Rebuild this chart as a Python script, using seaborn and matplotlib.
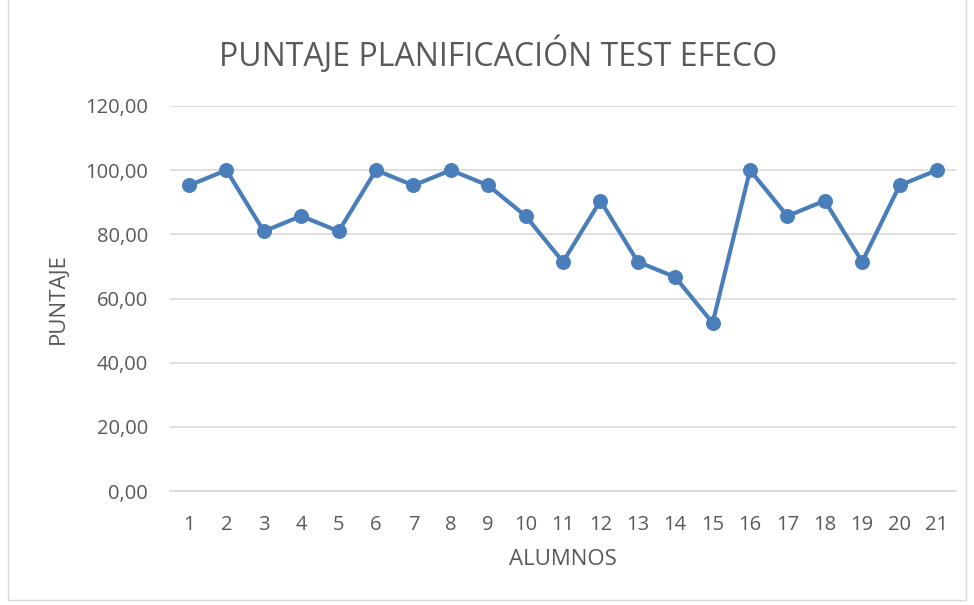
import matplotlib
matplotlib.use("Agg")
import matplotlib.pyplot as plt
import seaborn as sns
import pandas as pd
from matplotlib.patches import Rectangle

alumnos = [str(i) for i in range(1, 22)]
puntaje = [95.24, 100.00, 80.95, 85.71, 80.95, 100.00, 95.24, 100.00, 95.24, 85.71,
           71.43, 90.48, 71.43, 66.67, 52.38, 100.00, 85.71, 90.48, 71.43, 95.24, 100.00]
yticks = [0, 20, 40, 60, 80, 100, 120]
ytick_labels = ["0,00", "20,00", "40,00", "60,00", "80,00", "100,00", "120,00"]

df = pd.DataFrame({"ALUMNOS": alumnos, "PUNTAJE": puntaje})

sns.set_theme(style="white")
plt.rcParams['font.family'] = ['Open Sans', 'DejaVu Sans']

fig = plt.figure(figsize=(9.74, 6.05), dpi=100)
ax = fig.add_axes([0.1749, 0.1884, 0.8063, 0.6364])

line_color = "#4A7EBB"
sns.lineplot(data=df, x="ALUMNOS", y="PUNTAJE", ax=ax, color=line_color,
             linewidth=3.0, marker="o", markersize=10, markeredgecolor=line_color,
             markerfacecolor=line_color, sort=False)

ax.set_xlim(-0.5, 20.5)
ax.set_ylim(0, 120)
ax.set_yticks(yticks)
ax.set_yticklabels(ytick_labels)
ax.yaxis.grid(True, color="#D9D9D9", linewidth=1.2)
ax.set_axisbelow(True)
for s in ["top", "right", "left"]:
    ax.spines[s].set_visible(False)
ax.spines["bottom"].set_color("#D9D9D9")
ax.spines["bottom"].set_linewidth(1.2)
ax.tick_params(axis="y", length=0, colors="#595959", labelsize=14.5, pad=16)
ax.tick_params(axis="x", length=0, colors="#595959", labelsize=14.5, pad=17)
ax.set_xlabel("ALUMNOS", color="#595959", fontsize=16, va="center")
ax.set_ylabel("PUNTAJE", color="#595959", fontsize=16, va="center")
ax.xaxis.set_label_coords(0.5, -0.179)
ax.yaxis.set_label_coords(-0.143, 0.5)

fig.text(0.511, 1 - 55 / 605, "PUNTAJE PLANIFICACIÓN TEST EFECO", ha="center", va="center",
         color="#595959", fontsize=23)

fig.patches.append(Rectangle((8/974, 5/605), 1 - 16/974, 1 - 5/605 + 0.01,
                             transform=fig.transFigure, fill=False,
                             edgecolor="#D9D9D9", linewidth=1))

fig.savefig("out.png", dpi=100, facecolor="white")
